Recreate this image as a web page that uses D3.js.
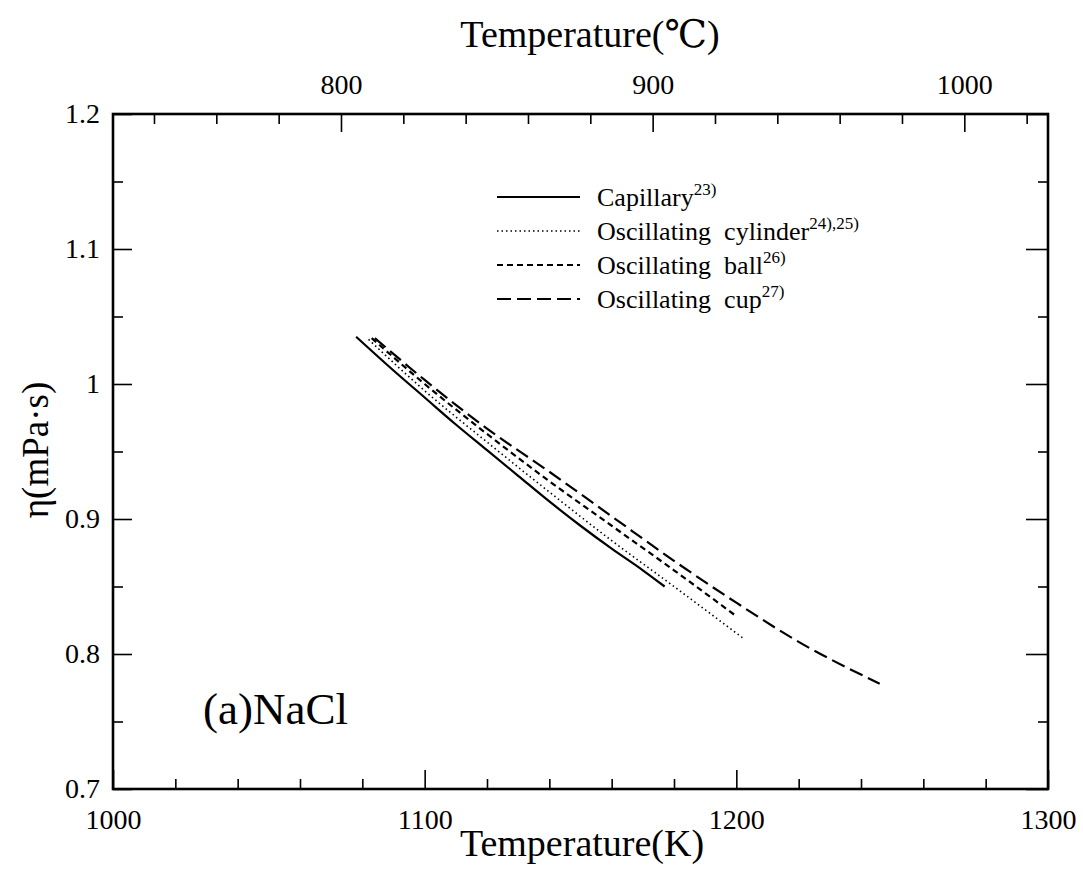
<!DOCTYPE html>
<html>
<head>
<meta charset="utf-8">
<script src="https://cdn.jsdelivr.net/npm/d3@7"></script>
<style>
  body { margin: 0; background: #fff; }
  svg text { font-family: "Liberation Serif", "DejaVu Serif", serif !important; fill: #000; }
</style>
</head>
<body>
<script>
// readings (temperature in K, viscosity in mPa·s)
let capillaryT = [1078, 1090, 1100, 1110, 1120, 1130, 1140, 1150, 1160, 1170, 1177];
let capillaryEta = [1.035, 1.010, 0.990, 0.970, 0.951, 0.932, 0.913, 0.895, 0.878, 0.862, 0.850];

let cylinderT = [1082, 1100, 1120, 1140, 1160, 1180, 1202];
let cylinderEta = [1.033, 0.995, 0.957, 0.920, 0.884, 0.850, 0.812];

let ballT = [1083, 1100, 1120, 1140, 1160, 1180, 1200];
let ballEta = [1.034, 1.000, 0.963, 0.928, 0.895, 0.862, 0.828];

let cupT = [1084, 1100, 1120, 1140, 1160, 1180, 1200, 1220, 1246];
let cupEta = [1.034, 1.003, 0.967, 0.935, 0.902, 0.869, 0.838, 0.809, 0.778];

let seriesNames = ["Capillary", "Oscillating  cylinder", "Oscillating  ball", "Oscillating  cup"];
let seriesRefs = ["23)", "24),25)", "26)", "27)"];
let seriesDash = ["none", "1.5,3", "6,4", "14,6"];

let kTicksMajor = [1000, 1100, 1200, 1300];
let cTicksMajor = [800, 900, 1000];
let etaTicksMajor = [0.7, 0.8, 0.9, 1.0, 1.1, 1.2];
let etaLabels = ["0.7", "0.8", "0.9", "1", "1.1", "1.2"];

let margin = { top: 114, left: 113, bottom: 81, right: 35 };
let W = 1083, H = 870;
let width = W - margin.left - margin.right;
let height = H - margin.top - margin.bottom;
let serif = "'Liberation Serif', 'DejaVu Serif', serif";

let svg = d3.select("body").append("svg").attr("width", W).attr("height", H);
let g = svg.append("g").attr("transform", "translate(" + margin.left + "," + margin.top + ")");

let x = d3.scaleLinear().domain([1000, 1300]).range([0, width]);
let xC = d3.scaleLinear().domain([1000 - 273.15, 1300 - 273.15]).range([0, width]);
let y = d3.scaleLinear().domain([0.7, 1.2]).range([height, 0]);

let kMinor = d3.range(1000, 1301, 20).filter(function(v) { return v % 100 != 0; });
let cMinor = d3.range(740, 1021, 20).filter(function(v) { return v % 100 != 0; });
let etaMinor = [0.75, 0.85, 0.95, 1.05, 1.15];

function styleAxis(sel, size) {
  sel.attr("font-family", null);
  sel.select(".domain").remove();
  sel.selectAll("line").attr("stroke", "#000").attr("stroke-width", 1.6);
  sel.selectAll("text").style("font-family", serif).attr("font-size", size).attr("fill", "#000");
}

// bottom (K)
g.append("g").attr("transform", "translate(0," + height + ")")
  .call(d3.axisBottom(x).tickValues(kMinor).tickSize(-10).tickFormat(""))
  .call(styleAxis, 28);
g.append("g").attr("transform", "translate(0," + height + ")")
  .call(d3.axisBottom(x).tickValues(kTicksMajor).tickSize(-19).tickPadding(20).tickFormat(d3.format("d")))
  .call(styleAxis, 28);

// top (°C)
g.append("g")
  .call(d3.axisTop(xC).tickValues(cMinor).tickSize(-10).tickFormat(""))
  .call(styleAxis, 28);
g.append("g")
  .call(d3.axisTop(xC).tickValues(cTicksMajor).tickSize(-18).tickPadding(20).tickFormat(d3.format("d")))
  .call(styleAxis, 28);

// left
g.append("g")
  .call(d3.axisLeft(y).tickValues(etaMinor).tickSize(-10).tickFormat(""))
  .call(styleAxis, 28);
g.append("g")
  .call(d3.axisLeft(y).tickValues(etaTicksMajor).tickSize(-19).tickPadding(13)
    .tickFormat(function(d, i) { return etaLabels[i]; }))
  .call(styleAxis, 28);

// right
g.append("g").attr("transform", "translate(" + width + ",0)")
  .call(d3.axisRight(y).tickValues(etaMinor).tickSize(-10).tickFormat(""))
  .call(styleAxis, 28);
g.append("g").attr("transform", "translate(" + width + ",0)")
  .call(d3.axisRight(y).tickValues(etaTicksMajor).tickSize(-22).tickFormat(""))
  .call(styleAxis, 28);

// frame
g.append("rect").attr("width", width).attr("height", height)
  .attr("fill", "none").attr("stroke", "#000").attr("stroke-width", 2.6);

// curves
let series = [
  d3.zip(capillaryT, capillaryEta),
  d3.zip(cylinderT, cylinderEta),
  d3.zip(ballT, ballEta),
  d3.zip(cupT, cupEta)
];

let line = d3.line()
  .x(function(d) { return x(d[0]); })
  .y(function(d) { return y(d[1]); })
  .curve(d3.curveMonotoneX);

g.selectAll(".curve").data(series).enter().append("path")
  .attr("class", "curve")
  .attr("d", line)
  .attr("fill", "none")
  .attr("stroke", "#000")
  .attr("stroke-width", function(d, i) { return i == 1 ? 1.6 : 2.2; })
  .attr("stroke-dasharray", function(d, i) { return seriesDash[i]; });

// legend
let legend = svg.append("g").attr("class", "legend");
let rows = legend.selectAll("g").data(seriesNames).enter().append("g")
  .attr("transform", function(d, i) { return "translate(497," + (197 + i * 34) + ")"; });

rows.append("line")
  .attr("x1", 0).attr("x2", 83).attr("y1", 0).attr("y2", 0)
  .attr("stroke", "#000")
  .attr("stroke-width", function(d, i) { return i == 1 ? 1.4 : 2; })
  .attr("stroke-dasharray", function(d, i) { return seriesDash[i]; });

let lt = rows.append("text")
  .attr("x", 100).attr("y", 9)
  .attr("font-size", 26)
  .style("font-family", serif)
  .style("white-space", "pre");
lt.append("tspan").text(function(d) { return d; });
lt.append("tspan").attr("dy", -11).attr("font-size", 17)
  .text(function(d, i) { return seriesRefs[i]; });

// titles
svg.append("text").attr("x", 582).attr("y", 856).attr("text-anchor", "middle")
  .style("font-family", serif).attr("font-size", 38).text("Temperature(K)");
svg.append("text").attr("x", 590).attr("y", 47).attr("text-anchor", "middle")
  .style("font-family", serif).attr("font-size", 38).text("Temperature(℃)");
svg.append("text").attr("transform", "translate(48,450) rotate(-90)").attr("text-anchor", "middle")
  .style("font-family", serif).attr("font-size", 37).text("η(mPa·s)");

svg.append("text").attr("x", 203).attr("y", 724).style("font-family", serif)
  .attr("font-size", 45).text("(a)NaCl");
</script>
</body>
</html>
